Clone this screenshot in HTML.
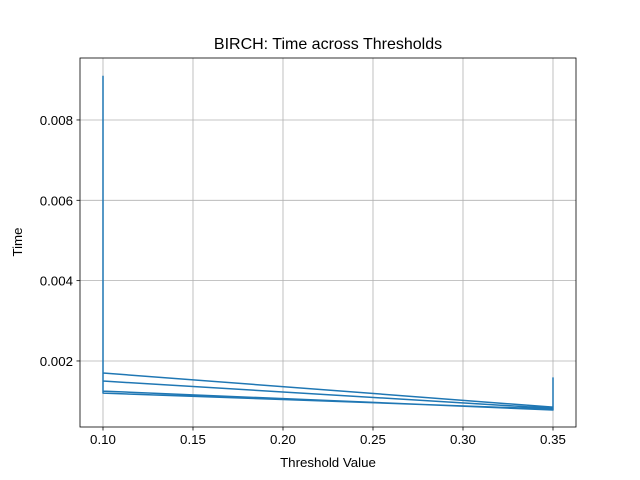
<!DOCTYPE html>
<html><head><meta charset="utf-8"><style>body{margin:0;background:#fff}svg{display:block}text{font-family:"Liberation Sans","DejaVu Sans",sans-serif;fill:#000}</style></head>
<body>
<svg id="chart" width="640" height="480"></svg>
<script>
const thresholds=[0.1,0.1,0.1,0.1,0.35,0.35,0.35,0.1,0.1,0.35,0.35,0.1,0.1];
const times=[0.0091,0.0080,0.0013,0.0017,0.00085,0.00158,0.0008,0.0012,0.0015,0.00082,0.00078,0.00125,0.0014];
const xTicks=[0.10,0.15,0.20,0.25,0.30,0.35];
const yTicks=[0.002,0.004,0.006,0.008];
const L=80,R=576,T=58,B=427;
const xs=v=>103+(v-0.1)*1800;
const ys=v=>441.3-v*40167;
const svg=document.getElementById('chart');
const NS='http://www.w3.org/2000/svg';
function mk(tag,attrs,txt){const e=document.createElementNS(NS,tag);for(const k in attrs)e.setAttribute(k,attrs[k]);if(txt!==undefined)e.textContent=txt;svg.appendChild(e);return e;}
xTicks.forEach(t=>{const x=xs(t);
const g=mk('line',{x1:x,x2:x,y1:T,y2:B,stroke:'#b0b0b0','stroke-width':0.8});


mk('line',{x1:x,x2:x,y1:B,y2:B+3.5,stroke:'#000','stroke-width':0.8});
const lb=mk('text',{x:x,y:B+17,'text-anchor':'middle','font-size':'13.3px'},t.toFixed(2));

});
yTicks.forEach(t=>{const y=ys(t);
const g=mk('line',{x1:L,x2:R,y1:y,y2:y,stroke:'#b0b0b0','stroke-width':0.8});


mk('line',{x1:L-3.5,x2:L,y1:y,y2:y,stroke:'#000','stroke-width':0.8});
const lb=mk('text',{x:L-7,y:y+5,'text-anchor':'end','font-size':'13.3px'},t.toFixed(3));

});
const pts=thresholds.map((t,i)=>xs(t)+','+ys(times[i])).join(' ');
const pl=mk('polyline',{points:pts,fill:'none',stroke:'#1f77b4','stroke-width':1.5,'stroke-linejoin':'round'});


const fr=mk('rect',{x:L,y:T,width:R-L,height:B-T,fill:'none',stroke:'#000','stroke-width':0.8});


const ti=mk('text',{x:328,y:49,'text-anchor':'middle','font-size':'16px'},'BIRCH: Time across Thresholds');


const xl=mk('text',{x:328,y:467,'text-anchor':'middle','font-size':'13.3px'},'Threshold Value');


const yl=mk('text',{x:22,y:242,'text-anchor':'middle','font-size':'13.3px',transform:'rotate(-90 22 242)'},'Time');


</script>
</body></html>
